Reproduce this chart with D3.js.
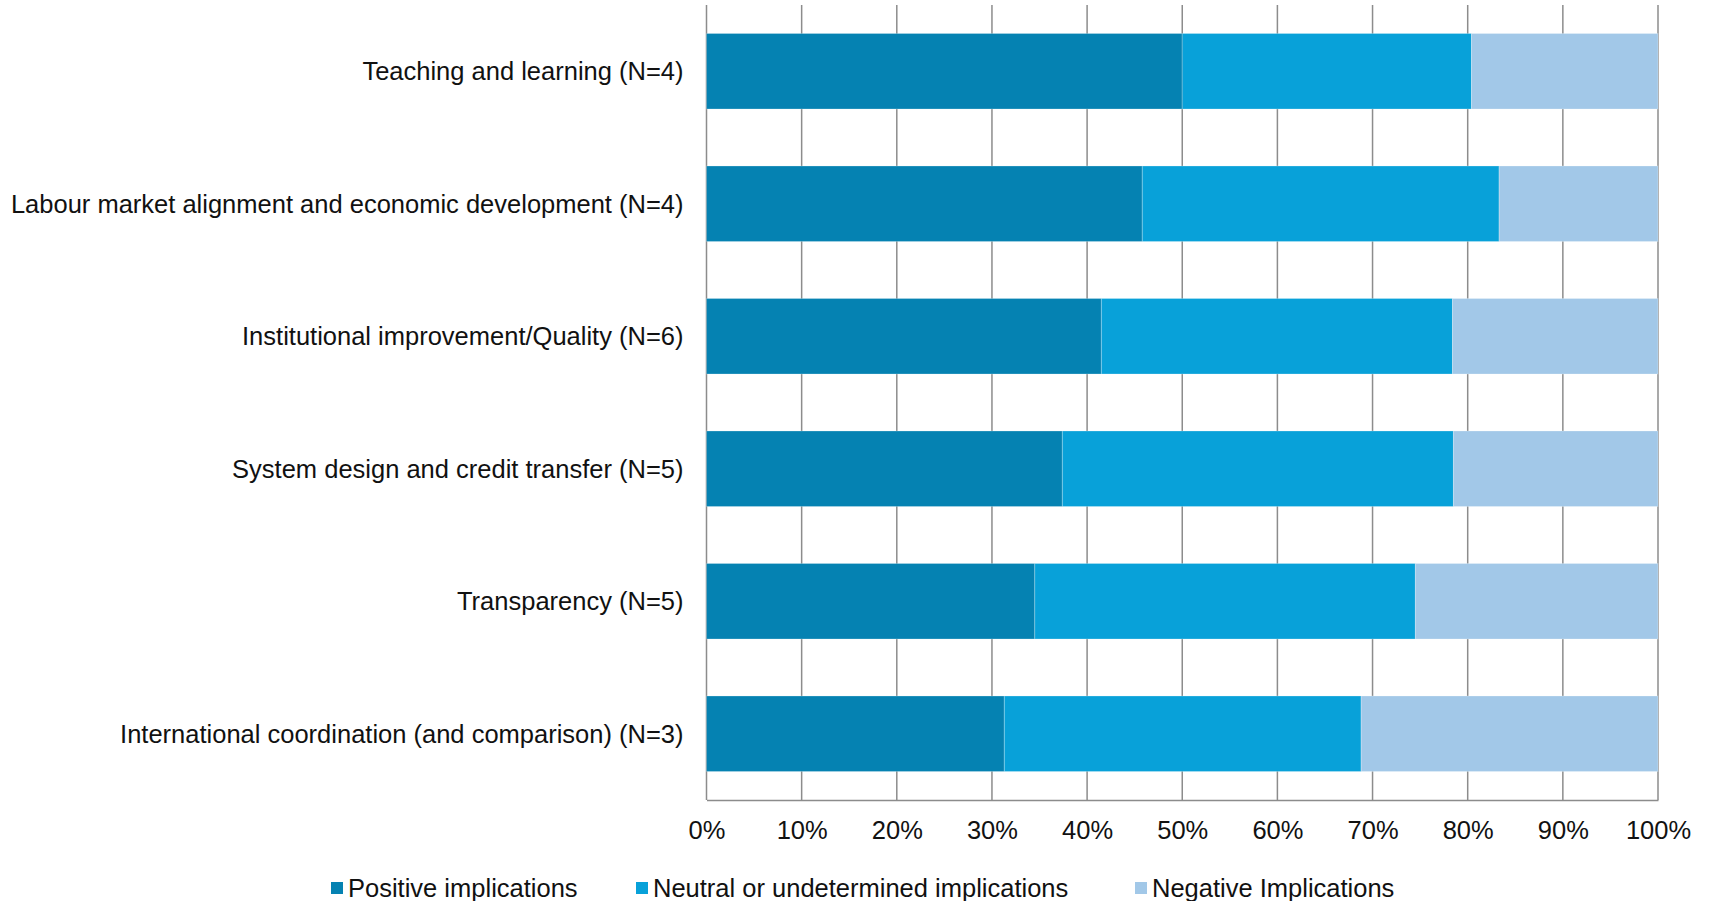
<!DOCTYPE html>
<html>
<head>
<meta charset="utf-8">
<script src="https://cdn.jsdelivr.net/npm/d3@7"></script>
<style>
  body { margin: 0; background: #fff; }
  text { font-family: "Liberation Sans", Arial, sans-serif; fill: #111; }
</style>
</head>
<body>
<svg></svg>
<script>
var width = 1709;
var height = 901;
var margin = {top: 5, right: 51, bottom: 101, left: 706.5};

var categories = [
  "Teaching and learning (N=4)",
  "Labour market alignment and economic development (N=4)",
  "Institutional improvement/Quality (N=6)",
  "System design and credit transfer (N=5)",
  "Transparency (N=5)",
  "International coordination (and comparison) (N=3)"
];
var seriesNames = ["Positive implications", "Neutral or undetermined implications", "Negative Implications"];
var positive = [50.0, 45.8, 41.5, 37.4, 34.5, 31.3];
var neutral  = [30.4, 37.5, 36.9, 41.1, 40.0, 37.5];
var negative = [19.6, 16.7, 21.6, 21.5, 25.5, 31.2];
var colors = ["#0582b2", "#08a1d9", "#a2c8e8"];
var ticks = [0, 10, 20, 30, 40, 50, 60, 70, 80, 90, 100];

var fontSize = "25.5px";

var rows = categories.map(function(c, i) {
  return {cat: c, pos: positive[i], neu: neutral[i], neg: negative[i]};
});

var svg = d3.select("svg").attr("width", width).attr("height", height);

var x = d3.scaleLinear().domain([0, 100]).range([margin.left, width - margin.right]);
var y = d3.scaleBand().domain(categories).range([margin.top, height - margin.bottom]).paddingInner(0.43).paddingOuter(0.215);

// gridlines
svg.append("g")
  .selectAll("line")
  .data(ticks)
  .enter().append("line")
  .attr("x1", d => x(d)).attr("x2", d => x(d))
  .attr("y1", margin.top).attr("y2", height - margin.bottom)
  .attr("stroke", "#8c8c8c")
  .attr("stroke-width", 1.5);

var stack = d3.stack().keys(["pos", "neu", "neg"]);
var layers = stack(rows);

svg.append("g")
  .selectAll("g")
  .data(layers)
  .enter().append("g")
  .attr("fill", (d, i) => colors[i])
  .selectAll("rect")
  .data(d => d)
  .enter().append("rect")
  .attr("x", d => x(d[0]))
  .attr("width", d => x(d[1]) - x(d[0]))
  .attr("y", d => y(d.data.cat))
  .attr("height", y.bandwidth())
  .attr("stroke", "#ffffff")
  .attr("stroke-opacity", 0.25)
  .attr("stroke-width", 1);

// bottom axis
var xAxis = d3.axisBottom(x).tickValues(ticks).tickFormat(d => d + "%").tickSize(0).tickPadding(21);
var gx = svg.append("g")
  .attr("transform", "translate(0," + (height - margin.bottom) + ")")
  .call(xAxis);
gx.select(".domain").attr("stroke", "#8c8c8c").attr("stroke-width", 1.5);
gx.selectAll("text").style("font-size", fontSize).attr("fill", "#111");

// category labels
var yAxis = d3.axisLeft(y).tickSize(0).tickPadding(23);
var gy = svg.append("g")
  .attr("transform", "translate(" + margin.left + ",1)")
  .call(yAxis);
gy.select(".domain").remove();
gy.selectAll("text").style("font-size", fontSize).attr("fill", "#111");

// legend
var legendX = [331, 636, 1135];
var legend = svg.append("g").attr("transform", "translate(0,888)");
var item = legend.selectAll("g")
  .data(seriesNames)
  .enter().append("g")
  .attr("transform", (d, i) => "translate(" + legendX[i] + ",0)");
item.append("rect")
  .attr("x", 0).attr("y", -6)
  .attr("width", 12).attr("height", 12)
  .attr("fill", (d, i) => colors[i]);
item.append("text")
  .attr("x", 17).attr("dy", "0.35em")
  .style("font-size", fontSize)
  .text(d => d);
</script>
</body>
</html>
